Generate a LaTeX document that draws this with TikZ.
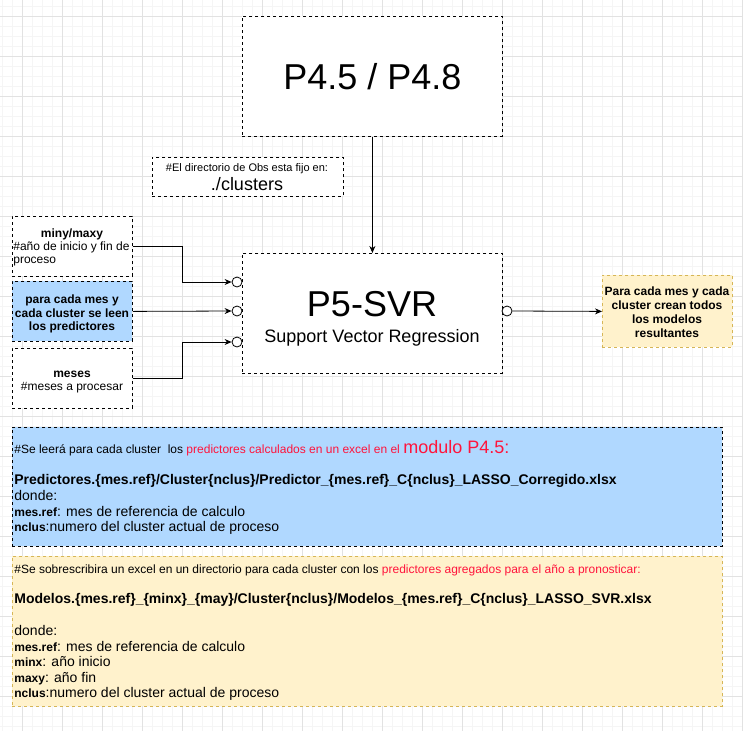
\documentclass[tikz,border=0pt]{standalone}
\usepackage{fontspec}
\setmainfont{Liberation Sans}
\usetikzlibrary{arrows.meta}
\definecolor{gridminor}{RGB}{245,245,245}
\definecolor{gridmajor}{RGB}{226,226,226}
\definecolor{inblue}{RGB}{176,216,255}
\definecolor{outfill}{RGB}{255,242,204}
\definecolor{outedge}{RGB}{214,182,86}
\definecolor{hired}{RGB}{255,20,60}
\newcommand{\sz}[1]{\fontsize{#1}{#1}\selectfont}
\newcommand{\keyw}[1]{{\sz{12}\bfseries #1}}

\begin{document}
\begin{tikzpicture}
	[x=1pt, y=-1pt, >={Stealth[length=7pt,width=6pt]}, line width=0.8pt,
	 box/.style={draw, fill=white, dash pattern=on 3pt off 3pt, anchor=north west, inner sep=0pt},
	 port/.style={draw, circle, fill=white, inner sep=0pt, minimum size=10pt},
	 txt/.style={anchor=base, inner sep=0pt},
	 ltxt/.style={anchor=base west, inner sep=0pt}]
	\useasboundingbox (0,0) rectangle (743,731);
	\foreach \x in {2,12,...,742} \draw[gridminor, line width=1pt] (\x,0) -- (\x,731);
	\foreach \y in {6,16,...,726} \draw[gridminor, line width=1pt] (0,\y) -- (743,\y);
	\foreach \x in {22,62,...,742} \draw[gridmajor, line width=1pt] (\x,0) -- (\x,731);
	\foreach \y in {16,56,...,696} \draw[gridmajor, line width=1pt] (0,\y) -- (743,\y);

	\node[box, minimum width=260pt, minimum height=120pt] (p45) at (242,16) {\sz{36}P4.5 / P4.8};
	\node[box, minimum width=260pt, minimum height=120pt] (p5) at (242,253) {};
	\node[txt] (p5name) at (372,316) {\sz{36}P5-SVR};
	\node[txt] (p5sub) at (372,342) {\sz{18}Support Vector Regression};

	\node[box, minimum width=191pt, minimum height=39pt] (obsdir) at (152,157) {};
	\node[txt] (obsnote) at (247,171) {\sz{11}\#El directorio de Obs esta fijo en:};
	\node[txt] (obspath) at (247,190) {\sz{18}./clusters};

	\node[box, minimum width=120pt, minimum height=60pt] (years) at (12,216) {};
	\node[txt] (years1) at (72,237) {\sz{12}\bfseries miny/maxy};
	\node[ltxt] (years2) at (13,250) {\sz{12}\#año de inicio y fin de};
	\node[ltxt] (years3) at (13,263) {\sz{12}proceso};

	\node[box, fill=inblue, minimum width=120pt, minimum height=60pt] (cells) at (12,281) {};
	\node[txt] (cells1) at (72,303) {\sz{12}\bfseries para cada mes y};
	\node[txt] (cells2) at (72,317) {\sz{12}\bfseries cada cluster se leen};
	\node[txt] (cells3) at (72,330) {\sz{12}\bfseries los predictores};

	\node[box, minimum width=120pt, minimum height=60pt] (months) at (12,348) {};
	\node[txt] (months1) at (72,377) {\sz{12}\bfseries meses};
	\node[txt] (months2) at (72,390) {\sz{12}\#meses a procesar};

	\node[box, fill=outfill, draw=outedge, minimum width=130pt, minimum height=72pt] (result) at (602,275) {};
	\node[txt] (result1) at (667,295) {\sz{12}\bfseries Para cada mes y cada};
	\node[txt] (result2) at (667,309) {\sz{12}\bfseries cluster crean todos};
	\node[txt] (result3) at (667,323) {\sz{12}\bfseries los modelos};
	\node[txt] (result4) at (667,337) {\sz{12}\bfseries resultantes};

	\node[port] (in1) at (237,282) {};
	\node[port] (in2) at (237,311) {};
	\node[port] (in3) at (237,342) {};
	\node[port] (out1) at (507,311) {};
	\draw[->] (p45) -- (p5);
	\draw[->] (years.east) -- ++(50,0) |- (in1.west);
	\draw[->] (cells.east) -- (in2.west);
	\draw[->] (months.east) -- ++(50,0) |- (in3.west);
	\draw[->] (out1.east) -- (result.west);

	\node[box, fill=inblue, minimum width=710pt, minimum height=119pt] (readbox) at (12,427) {};
	\node[ltxt] (readnote) at (14,453) {\sz{12}\#Se leerá para cada cluster\ \ los \textcolor{hired}{predictores calculados en un excel en el {\sz{18}modulo P4.5:}}};
	\node[ltxt] (readfile) at (14,484) {\sz{14}\bfseries Predictores.\{mes.ref\}/Cluster\{nclus\}/Predictor\_\{mes.ref\}\_C\{nclus\}\_LASSO\_Corregido.xlsx};
	\node[ltxt] (readwhere) at (14,500) {\sz{14}donde:};
	\node[ltxt] (readkey1) at (14,516) {\keyw{mes.ref}\sz{14}: mes de referencia de calculo};
	\node[ltxt] (readkey2) at (14,531) {\keyw{nclus}\sz{14}:numero del cluster actual de proceso};

	\node[box, fill=outfill, draw=outedge, minimum width=710pt, minimum height=150pt] (savebox) at (12,556) {};
	\node[ltxt] (savenote) at (14,573) {\sz{12}\#Se sobrescribira un excel en un directorio para cada cluster con los \textcolor{hired}{predictores agregados para el año a pronosticar:}};
	\node[ltxt] (savefile) at (14,603) {\sz{14}\bfseries Modelos.\{mes.ref\}\_\{minx\}\_\{may\}/Cluster\{nclus\}/Modelos\_\{mes.ref\}\_C\{nclus\}\_LASSO\_SVR.xlsx};
	\node[ltxt] (savewhere) at (14,635) {\sz{14}donde:};
	\node[ltxt] (savekey1) at (14,651) {\keyw{mes.ref}\sz{14}: mes de referencia de calculo};
	\node[ltxt] (savekey2) at (14,666) {\keyw{minx}\sz{14}: año inicio};
	\node[ltxt] (savekey3) at (14,682) {\keyw{maxy}\sz{14}: año fin};
	\node[ltxt] (savekey4) at (14,697) {\keyw{nclus}\sz{14}:numero del cluster actual de proceso};
\end{tikzpicture}
\end{document}
